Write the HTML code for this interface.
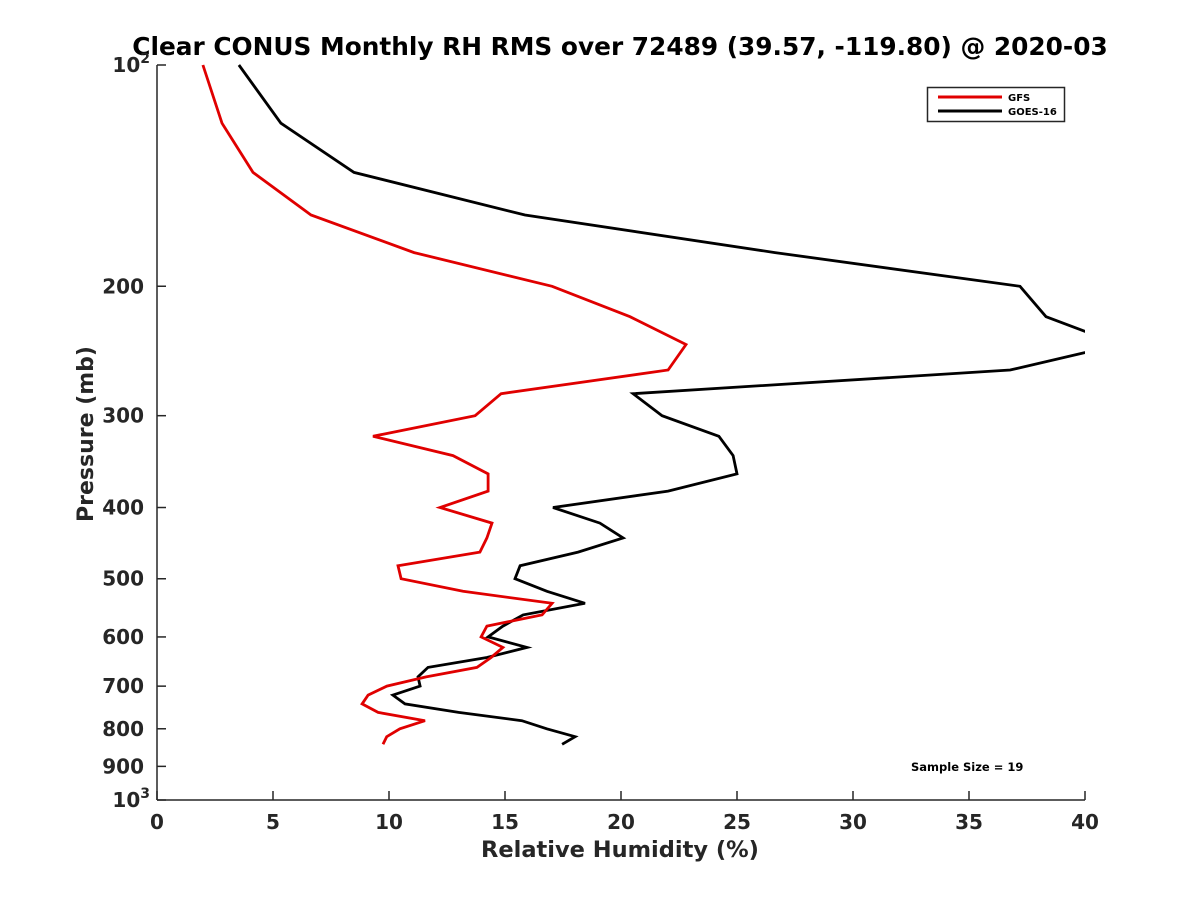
<!DOCTYPE html>
<html><head><meta charset="utf-8"><style>
html,body{margin:0;padding:0;background:#fff;}
svg{display:block;font-family:"DejaVu Sans","Liberation Sans",sans-serif;font-weight:bold;}
</style></head><body>
<svg id="chart" width="1200" height="900" viewBox="0 0 1200 900">
<defs><clipPath id="plotclip"><rect x="157" y="60" width="928" height="745"/></clipPath></defs>
<text x="620" y="55" text-anchor="middle" font-size="24.8" fill="#000">Clear CONUS Monthly RH RMS over 72489 (39.57, -119.80) @ 2020-03</text>
<g id="axes"></g>
<g id="series" clip-path="url(#plotclip)"></g>
<text x="620" y="857" text-anchor="middle" font-size="22.5" fill="#262626">Relative Humidity (%)</text>
<text transform="translate(93,434) rotate(-90)" text-anchor="middle" font-size="22" fill="#262626">Pressure (mb)</text>
<g>
<rect x="927.5" y="87.5" width="137" height="34" fill="#fff" stroke="#262626" stroke-width="1.5"/>
<line x1="938" y1="97" x2="1002" y2="97" stroke="#e00000" stroke-width="3"/>
<text x="1008" y="101" font-size="10" fill="#000">GFS</text>
<line x1="938" y1="111" x2="1002" y2="111" stroke="#000" stroke-width="3"/>
<text x="1008" y="115" font-size="10" fill="#000">GOES-16</text>
</g>
<text x="911" y="771" font-size="11.5" fill="#000">Sample Size = 19</text>
</svg>
<script>
const pressureLevels = [100,120,140,160,180,200,220,240,260,280,300,320,340,360,380,400,420,440,460,480,500,520,540,560,580,600,620,640,660,680,700,720,740,760,780,800,820,840];
const gfsValues = [1.98,2.8,4.14,6.64,11.08,17.03,20.39,22.8,22.03,14.83,13.71,9.31,12.76,14.27,14.27,12.2,14.44,14.22,13.92,10.39,10.52,13.19,17.03,16.6,14.22,13.97,14.91,14.4,13.79,11.6,9.91,9.1,8.84,9.53,11.55,10.47,9.9,9.74];
const goesValues = [3.53,5.34,8.49,15.86,26.64,37.2,38.32,41.5,36.77,20.52,21.77,24.22,24.83,25.0,22.03,17.07,19.09,20.09,18.15,15.65,15.43,16.81,18.45,15.78,14.91,14.27,15.95,14.22,11.68,11.25,11.34,10.17,10.69,13.0,15.73,16.8,18.02,17.46];
const xTicks = [0,5,10,15,20,25,30,35,40];
const yTicks = [100,200,300,400,500,600,700,800,900,1000];

const NS = "http://www.w3.org/2000/svg";
const X0=157, X1=1085, Y0=65, Y1=800;
function xScale(v){return X0+(v/40)*(X1-X0);}
function yScale(p){return Y0+(Math.log10(p)-2)*(Y1-Y0);}
function mk(tag, attrs, parent){const e=document.createElementNS(NS,tag);for(const k in attrs)e.setAttribute(k,attrs[k]);parent.appendChild(e);return e;}
const axes=document.getElementById('axes');
const series=document.getElementById('series');
const col="#262626";
let ax=mk('line',{x1:X0,y1:Y0,x2:X0,y2:Y1,stroke:col,'stroke-width':1.5},axes);


let bx=mk('line',{x1:X0,y1:Y1,x2:X1,y2:Y1,stroke:col,'stroke-width':1.5},axes);


xTicks.forEach(t=>{
  const x=xScale(t);
  const l=mk('line',{x1:x,y1:Y1,x2:x,y2:Y1-9,stroke:col,'stroke-width':1.5},axes);
  
  
  const tx=mk('text',{x:x,y:Y1+29,'text-anchor':'middle','font-size':20,fill:col},axes);
  tx.textContent=t;
  
  
});
yTicks.forEach(t=>{
  const y=yScale(t);
  const l=mk('line',{x1:X0,y1:y,x2:X0+9,y2:y,stroke:col,'stroke-width':1.5},axes);
  
  
  const tx=mk('text',{x:144,y:y+7,'text-anchor':'end','font-size':20,fill:col},axes);
  if(t===100||t===1000){
    tx.textContent='10';
    const s=mk('tspan',{dy:-9,'font-size':14},tx);
    s.textContent=(t===100?'2':'3');
    tx.setAttribute('x',150);
  } else tx.textContent=t;
  
  
});
function drawLine(vals,color,name){
  const pts=vals.map((v,i)=>xScale(v).toFixed(1)+','+yScale(pressureLevels[i]).toFixed(1)).join(' ');
  const pl=mk('polyline',{points:pts,fill:'none',stroke:color,'stroke-width':2.8,'stroke-linejoin':'miter'},series);
  
  
}
drawLine(goesValues,'#000','goes16-line');
drawLine(gfsValues,'#e00000','gfs-line');
</script>
</body></html>
